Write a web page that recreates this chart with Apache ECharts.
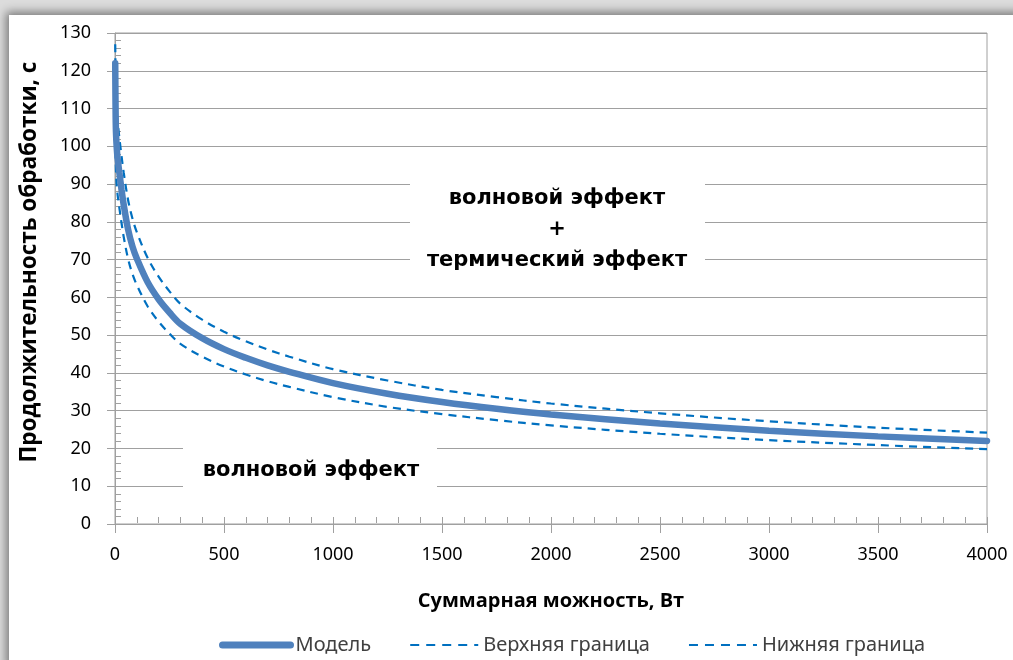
<!DOCTYPE html>
<html>
<head>
<meta charset="utf-8">
<script src="https://cdn.jsdelivr.net/npm/echarts@6/dist/echarts.min.js"></script>
<style>
    html, body { margin: 0; padding: 0; background: #dcdcdc; overflow: hidden; }
    #frame { position: absolute; left: 9px; top: 15px; width: 1010px; height: 650px; background: #fff;
             box-shadow: 0 0 9px 3px rgba(0, 0, 0, 0.45); }
    #main { position: absolute; left: 0; top: 0; width: 1013px; height: 660px; }
</style>
</head>
<body>
<div id="frame"></div>
<div id="main"></div>
<script>
// мощность, Вт
var power = [1, 3, 5, 10, 20, 30, 40, 60, 80, 100, 150, 200, 250, 300, 400, 500, 600, 700, 800, 1000,
    1250, 1500, 1750, 2000, 2500, 3000, 3500, 4000];
// продолжительность, с
var modelVals = [122, 108, 103, 98, 93, 88.5, 84.5, 78, 73.5, 70.3, 64, 59.5, 56, 53, 49.2, 46.3, 44, 42, 40.3, 37.3,
    34.5, 32.3, 30.5, 29, 26.6, 24.7, 23.2, 22];
var upperVals = [127, 118.8, 113.3, 107.8, 102.3, 97.4, 93, 85.8, 80.9, 77.3, 70.4, 65.5, 61.6, 58.3, 54.1, 50.9, 48.4, 46.2, 44.3, 41,
    38, 35.5, 33.6, 31.9, 29.3, 27.2, 25.5, 24.2];
var lowerVals = [110, 97.2, 92.7, 88.2, 83.7, 79.7, 76, 70.2, 66.2, 63.3, 57.6, 53.6, 50.4, 47.7, 44.3, 41.7, 39.6, 37.8, 36.3, 33.6,
    31, 29.1, 27.5, 26.1, 23.9, 22.2, 20.9, 19.8];

var seriesNames = ['Модель', 'Верхняя граница', 'Нижняя граница'];

function pairs(xs, ys) {
    var out = [];
    for (var i = 0; i < xs.length; i++) { out.push([xs[i], ys[i]]); }
    return out;
}

var gridColor = '#a0a0a0';
var labelFont = 'Noto Sans';
var blueModel = '#4F81BD';
var blueDash = '#0070C0';

var myChart = echarts.init(document.getElementById('main'));
myChart.setOption({
    animation: false,
    grid: { left: 115, right: 26, top: 33, bottom: 136, show: true, borderColor: gridColor, borderWidth: 1 },
    legend: {
        bottom: 0,
        left: 214,
        itemWidth: 68,
        itemHeight: 14,
        itemGap: 38,
        itemStyle: { opacity: 0 },
        textStyle: { fontFamily: labelFont, fontSize: 20, color: '#404040' },
        data: [
            { name: seriesNames[0], lineStyle: { width: 7, color: blueModel, cap: 'round' } },
            { name: seriesNames[1], lineStyle: { width: 2.2, color: blueDash, type: [9, 7] } },
            { name: seriesNames[2], lineStyle: { width: 2.2, color: blueDash, type: [9, 7] } }
        ]
    },
    xAxis: [{
        type: 'value',
        min: 0, max: 4000, interval: 500,
        axisLine: { lineStyle: { color: gridColor } },
        axisTick: { show: true, length: 9, lineStyle: { color: gridColor } },
        axisLabel: { margin: 22, fontFamily: labelFont, fontSize: 18, color: '#000',
            formatter: function (v) { return String(v); } },
        splitLine: { show: false }
    }, {
        // вспомогательная ось: засечки внутри области графика
        type: 'value',
        position: 'bottom',
        offset: -7,
        min: 0, max: 4000, interval: 500,
        axisLine: { show: false },
        axisTick: { show: true, length: 7, lineStyle: { color: gridColor } },
        minorTick: { show: true, splitNumber: 5, length: 6, lineStyle: { color: gridColor } },
        axisLabel: { show: false },
        splitLine: { show: false }
    }],
    yAxis: [{
        type: 'value',
        min: 0, max: 130, interval: 10,
        axisLine: { show: true, lineStyle: { color: gridColor } },
        axisTick: { show: true, length: 8, lineStyle: { color: gridColor } },
        axisLabel: { margin: 24, fontFamily: labelFont, fontSize: 18, color: '#000' },
        splitLine: { show: true, lineStyle: { color: gridColor, width: 1 } }
    }, {
        type: 'value',
        position: 'left',
        offset: -6,
        min: 0, max: 130, interval: 10,
        axisLine: { show: false },
        axisTick: { show: false },
        minorTick: { show: true, splitNumber: 5, length: 6, lineStyle: { color: gridColor } },
        axisLabel: { show: false },
        splitLine: { show: false }
    }],
    graphic: [{
        type: 'text',
        x: 30, y: 262,
        rotation: Math.PI / 2,
        style: {
            text: 'Продолжительность обработки, с',
            font: 'bold 22.5px "Open Sans"',
            fill: '#000',
            align: 'center',
            verticalAlign: 'middle'
        }
    }, {
        type: 'text',
        x: 551, y: 601,
        style: {
            text: 'Суммарная можность, Вт',
            font: 'bold 20px "Open Sans"',
            fill: '#000',
            align: 'center',
            verticalAlign: 'middle'
        }
    }, {
        type: 'rect',
        z: 10,
        shape: { x: 410, y: 180, width: 295, height: 96 },
        style: { fill: '#fff' }
    }, {
        type: 'text',
        z: 11,
        x: 557, y: 230,
        style: {
            text: 'волновой эффект\n+\nтермический эффект',
            font: 'bold 21px "DejaVu Sans"',
            lineHeight: 31,
            fill: '#000',
            align: 'center',
            verticalAlign: 'middle'
        }
    }, {
        type: 'rect',
        z: 10,
        shape: { x: 183, y: 445, width: 254, height: 47 },
        style: { fill: '#fff' }
    }, {
        type: 'text',
        z: 11,
        x: 311, y: 471,
        style: {
            text: 'волновой эффект',
            font: 'bold 21px "DejaVu Sans"',
            fill: '#000',
            align: 'center',
            verticalAlign: 'middle'
        }
    }],
    series: [{
        name: seriesNames[1],
        type: 'line',
        smooth: 0.35,
        symbol: 'none',
        z: 3,
        lineStyle: { color: blueDash, width: 2.2, type: [8, 6] },
        itemStyle: { color: blueDash },
        data: pairs(power, upperVals)
    }, {
        name: seriesNames[2],
        type: 'line',
        smooth: 0.35,
        symbol: 'none',
        z: 3,
        lineStyle: { color: blueDash, width: 2.2, type: [8, 6] },
        itemStyle: { color: blueDash },
        data: pairs(power, lowerVals)
    }, {
        name: seriesNames[0],
        type: 'line',
        smooth: 0.35,
        symbol: 'none',
        z: 4,
        lineStyle: { color: blueModel, width: 6.5, cap: 'round' },
        itemStyle: { color: blueModel },
        data: pairs(power, modelVals)
    }]
});
</script>
</body>
</html>
